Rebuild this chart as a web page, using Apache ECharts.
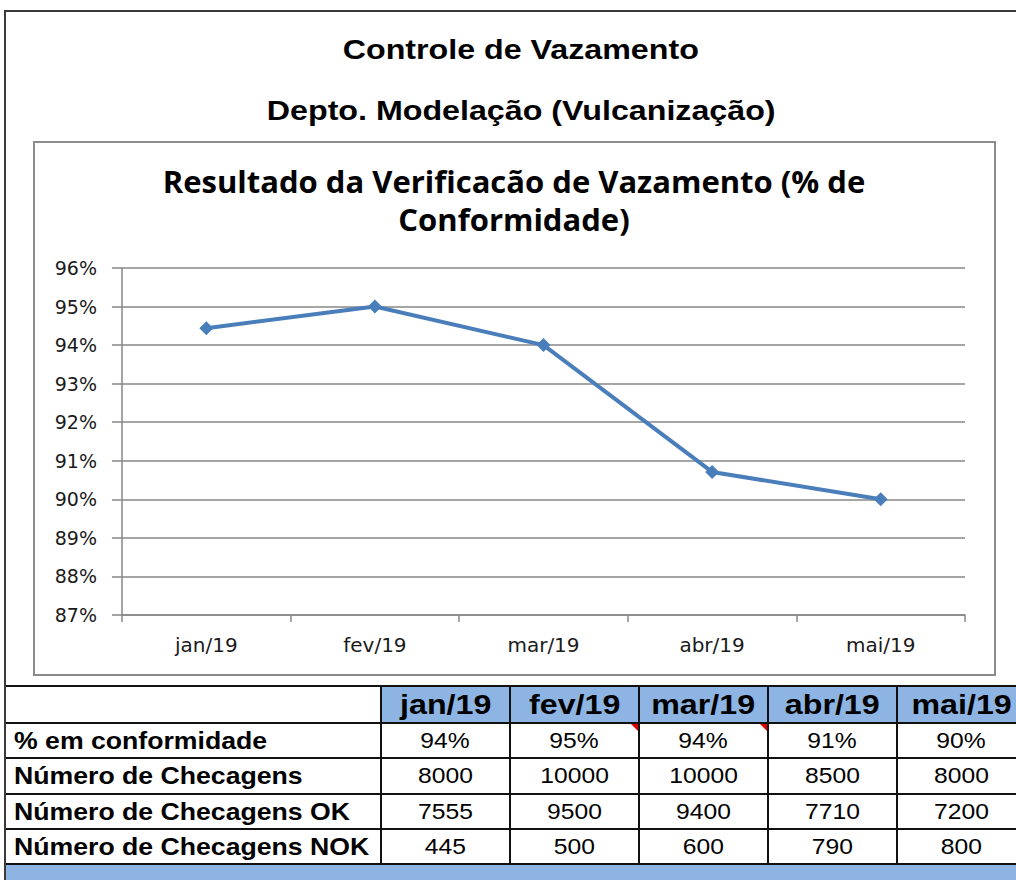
<!DOCTYPE html>
<html>
<head>
<meta charset="utf-8">
<script src="https://cdn.jsdelivr.net/npm/echarts@6/dist/echarts.min.js"></script>
<style>
  html, body { margin: 0; padding: 0; background: #fff; }
  #page { position: relative; width: 1016px; height: 880px; overflow: hidden; background: #fff; }
  .abs { position: absolute; box-sizing: border-box; }
  .cell { position: absolute; display: flex; align-items: center; justify-content: center; overflow: visible; white-space: nowrap; }
  .cell.left { justify-content: flex-start; padding-left: 9px; }
  .t { display: inline-block; white-space: nowrap; }
  .ttl { position: absolute; left: 0; width: 1042px; text-align: center; font-family: "Liberation Sans", Arial, sans-serif; font-weight: bold; font-size: 28px; color: #000; }
</style>
</head>
<body>
<div id="page">
  <div class="abs" style="left:4px;top:10px;width:1100px;height:900px;border-left:2px solid #3a3a3a;border-top:2px solid #3a3a3a;"></div>
  <div class="ttl" style="top:34px;"><span class="t" style="transform:scaleX(1.15)">Controle de Vazamento</span></div>
  <div class="ttl" style="top:95px;"><span class="t" style="transform:scaleX(1.15)">Depto. Modelação (Vulcanização)</span></div>
  <div id="chart" class="abs" style="left:33px;top:141px;width:962px;height:535px;"></div>
  <div class="abs" style="left:33px;top:141px;width:963px;height:535px;border:2px solid #8c8c8c;pointer-events:none;"></div>
  <div id="table"></div>
</div>
<script>
// ---- data ----
var months = ['jan/19', 'fev/19', 'mar/19', 'abr/19', 'mai/19'];
var conformity = [94.44, 95.0, 94.0, 90.71, 90.0];          // % em conformidade
var checks = [8000, 10000, 10000, 8500, 8000];              // Número de Checagens
var checksOK = [7555, 9500, 9400, 7710, 7200];              // Número de Checagens OK
var checksNOK = [445, 500, 600, 790, 800];                  // Número de Checagens NOK
var yTicks = { min: 87, max: 96, step: 1 };
var rowLabels = ['% em conformidade', 'Número de Checagens', 'Número de Checagens OK', 'Número de Checagens NOK'];
var chartTitle = 'Resultado da Verificacão de Vazamento (% de\nConformidade)';

// ---- chart ----
var chart = echarts.init(document.getElementById('chart'), null, { renderer: 'svg' });
var axisGray = '#878787';
chart.setOption({
  animation: false,
  backgroundColor: '#fff',
  title: {
    text: chartTitle,
    left: 'center',
    top: 16,
    textStyle: { fontFamily: 'Open Sans', fontWeight: 'bold', fontSize: 31, lineHeight: 38, color: '#000' }
  },
  grid: { left: 89, right: 30, top: 127, bottom: 61 },
  xAxis: {
    type: 'category',
    data: months,
    boundaryGap: true,
    axisLine: { lineStyle: { color: axisGray, width: 1.5 } },
    axisTick: { show: true, length: 7, interval: 0, lineStyle: { color: axisGray, width: 1.5 } },
    axisLabel: { fontFamily: 'DejaVu Sans', fontSize: 20, color: '#1a1a1a', margin: 20 }
  },
  yAxis: {
    type: 'value',
    min: yTicks.min, max: yTicks.max, interval: yTicks.step,
    axisLine: { show: true, lineStyle: { color: axisGray, width: 1.5 } },
    axisTick: { show: true, length: 10, lineStyle: { color: axisGray, width: 1.5 } },
    splitLine: { lineStyle: { color: axisGray, width: 1.5 } },
    axisLabel: { formatter: '{value}%', fontFamily: 'DejaVu Sans', fontSize: 19, color: '#1a1a1a', margin: 25 }
  },
  series: [{
    type: 'line',
    data: conformity,
    symbol: 'diamond',
    symbolSize: 14,
    lineStyle: { color: '#4A7EBB', width: 4 },
    itemStyle: { color: '#4A7EBB' }
  }]
});

// ---- table ----
var colX = [5, 381, 510, 639, 768, 897, 1026];
var rowY = [686, 723, 758, 794, 829, 864];
var blue = '#8DB4E2';
var html = '';
function cell(x0, x1, y0, y1, bg, text, cls, style) {
  return '<div class="cell ' + (cls || '') + '" style="left:' + x0 + 'px;top:' + y0 + 'px;width:' + (x1 - x0) + 'px;height:' + (y1 - y0) + 'px;background:' + bg + ';">' +
    '<span class="t" style="' + style + '">' + text + '</span></div>';
}
var hdrStyle = 'font-family:Liberation Sans,Arial,sans-serif;font-weight:bold;font-size:28px;color:#000;transform:scaleX(1.15);';
var lblStyle = 'font-family:Liberation Sans,Arial,sans-serif;font-weight:bold;font-size:24px;color:#000;transform:scaleX(1.11);transform-origin:left center;';
var valStyle = 'font-family:Liberation Sans,Arial,sans-serif;font-size:22px;color:#000;transform:scaleX(1.12);';
// header row
html += cell(colX[0], colX[1], rowY[0], rowY[1], '#fff', '', '', '');
months.forEach(function (m, j) { html += cell(colX[j + 1], colX[j + 2], rowY[0], rowY[1], blue, m, '', hdrStyle); });
var rows = [
  conformity.map(function (v) { return Math.round(v) + '%'; }),
  checks.map(String), checksOK.map(String), checksNOK.map(String)
];
rows.forEach(function (r, i) {
  html += cell(colX[0], colX[1], rowY[i + 1], rowY[i + 2], '#fff', rowLabels[i], 'left', lblStyle);
  r.forEach(function (v, j) { html += cell(colX[j + 1], colX[j + 2], rowY[i + 1], rowY[i + 2], '#fff', v, '', valStyle); });
});
// blue band at bottom
html += '<div class="abs" style="left:5px;top:864px;width:1020px;height:20px;background:' + blue + ';"></div>';
// grid lines
rowY.forEach(function (y) { html += '<div class="abs" style="left:4px;top:' + (y - 1) + 'px;width:1020px;height:2px;background:#111;"></div>'; });
colX.slice(1, 6).forEach(function (x) { html += '<div class="abs" style="left:' + (x - 1) + 'px;top:' + rowY[0] + 'px;width:2px;height:' + (rowY[5] - rowY[0]) + 'px;background:#111;"></div>'; });
// left outer border through table
html += '<div class="abs" style="left:4px;top:680px;width:2px;height:200px;background:#3a3a3a;"></div>';
// comment indicators (red triangles) on fev and mar conformity cells
[2, 3].forEach(function (j) {
  var x = colX[j + 1] - 8, y = rowY[1] + 1;
  html += '<div class="abs" style="left:' + x + 'px;top:' + y + 'px;width:0;height:0;border-top:7px solid #e00000;border-left:7px solid transparent;"></div>';
});
document.getElementById('table').innerHTML = html;
</script>
</body>
</html>
